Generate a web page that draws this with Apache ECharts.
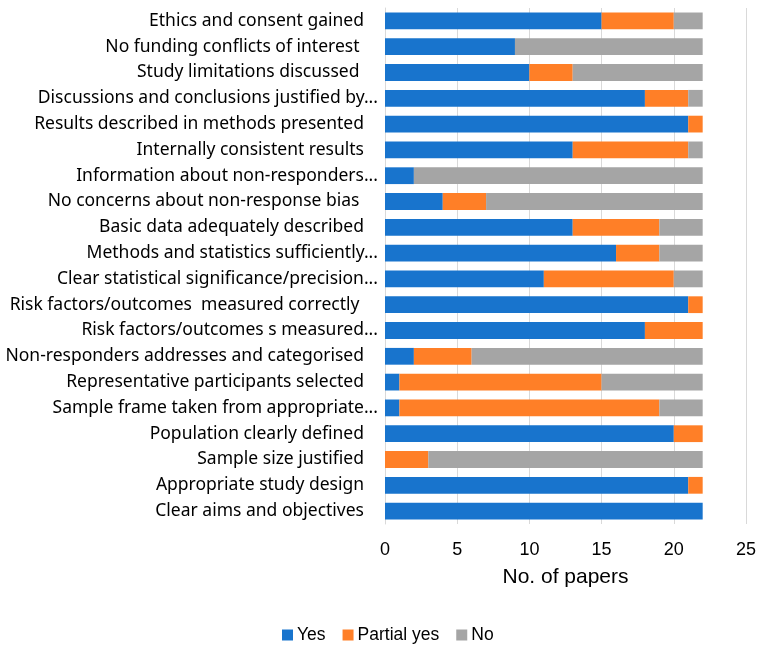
<!DOCTYPE html>
<html>
<head>
<meta charset="utf-8">
<script src="https://cdn.jsdelivr.net/npm/echarts@6/dist/echarts.min.js"></script>
<style>html,body{margin:0;padding:0;background:#fff;}#c{width:761px;height:646px;}</style>
</head>
<body>
<div id="c"></div>
<script>
const categories = [
  "Ethics and consent gained",
  "No funding conflicts of interest ",
  "Study limitations discussed ",
  "Discussions and conclusions justified by...",
  "Results described in methods presented",
  "Internally consistent results",
  "Information about non-responders...",
  "No concerns about non-response bias ",
  "Basic data adequately described",
  "Methods and statistics sufficiently...",
  "Clear statistical significance/precision...",
  "Risk factors/outcomes  measured correctly ",
  "Risk factors/outcomes s measured...",
  "Non-responders addresses and categorised",
  "Representative participants selected",
  "Sample frame taken from appropriate...",
  "Population clearly defined",
  "Sample size justified",
  "Appropriate study design",
  "Clear aims and objectives"
];
const yesValues     = [15, 9, 10, 18, 21, 13, 2, 4, 13, 16, 11, 21, 18, 2, 1, 1, 20, 0, 21, 22];
const partialValues = [5, 0, 3, 3, 1, 8, 0, 3, 6, 3, 9, 1, 4, 4, 14, 18, 2, 3, 1, 0];
const noValues      = [2, 13, 9, 1, 0, 1, 20, 15, 3, 3, 2, 0, 0, 16, 7, 3, 0, 19, 0, 0];
const seriesNames = ["Yes", "Partial yes", "No"];
const xTicks = [0, 5, 10, 15, 20, 25];
const axisTitle = "No. of papers";

const colors = ["#1874cd", "#ff7f27", "#a5a5a5"];
const chart = echarts.init(document.getElementById('c'), null, {renderer: 'canvas'});
const seriesData = [yesValues, partialValues, noValues];
chart.setOption({
  animation: false,
  color: colors,
  grid: {left: 385, right: 15, top: 8, bottom: 122, containLabel: false},
  legend: {
    data: seriesNames,
    left: 277, top: 621,
    itemWidth: 11, itemHeight: 11, itemGap: 17,
    icon: 'rect',
    textStyle: {fontFamily: 'Liberation Sans, Arial', fontSize: 17.5, color: '#000', padding: [0,0,0,-1]}
  },
  xAxis: {
    type: 'value',
    min: xTicks[0], max: xTicks[xTicks.length - 1], interval: 5,
    name: axisTitle, nameLocation: 'middle', nameGap: 43,
    nameTextStyle: {fontFamily: 'Liberation Sans, Arial', fontSize: 21, color: '#000'},
    axisLine: {show: false},
    axisTick: {show: false},
    axisLabel: {fontFamily: 'Liberation Sans, Arial', fontSize: 18, color: '#000', margin: 17},
    splitLine: {lineStyle: {color: '#d9d9d9', width: 1}}
  },
  yAxis: {
    type: 'category',
    data: categories,
    inverse: true,
    axisLine: {show: true, lineStyle: {color: '#d9d9d9', width: 1}},
    axisTick: {show: false},
    axisLabel: {
      margin: 7,
      color: '#000',
      fontFamily: 'Noto Sans',
      fontSize: 17.5,
      formatter: function (v) {
        return v.endsWith('...') ? '{t|' + v + '}' : '{n|' + v + '}';
      },
      rich: {
        t: {fontFamily: 'Noto Sans', fontSize: 17.5, color: '#000'},
        n: {fontFamily: 'Noto Sans', fontSize: 17.5, color: '#000', padding: [0, 14, 0, 0]}
      }
    }
  },
  series: seriesNames.map((name, i) => ({
    name: name,
    type: 'bar',
    stack: 'total',
    barWidth: '65%',
    data: seriesData[i],
    itemStyle: {color: colors[i]}
  }))
});
</script>
</body>
</html>
